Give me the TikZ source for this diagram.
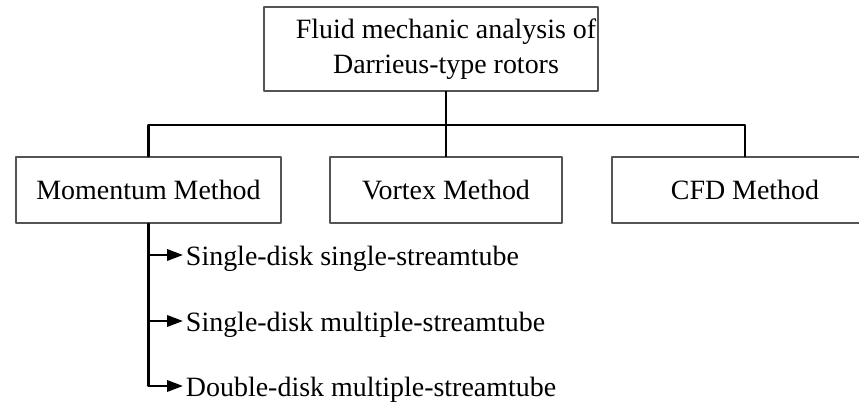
\documentclass[tikz,border=0pt]{standalone}
\usepackage{fontspec}
\setmainfont{Liberation Serif}
\usetikzlibrary{arrows.meta}
\definecolor{qqqqqq}{rgb}{0.33,0.33,0.33}

\begin{document}
\begin{tikzpicture}[line cap=round,line join=round,>={Triangle[length=9pt,width=6.4pt]},x=1.0cm,y=1.0cm,
  box/.style={draw=qqqqqq,line width=0.8pt,inner sep=0pt,font=\fontsize{15.9}{19.8}\selectfont},
  item/.style={anchor=west,inner xsep=1.5pt,inner ysep=0pt,text height=15pt,text depth=3.5pt,font=\fontsize{15.9}{19.8}\selectfont},
  link/.style={line width=1.3pt}]
\useasboundingbox (0,0) rectangle (17.18,8.06);
\clip (0,0) rectangle (17.18,8.06);
% top box
\node[box,minimum width=6.68cm,minimum height=1.68cm] (root) at (8.62,7.08) {};
\node[align=center,inner sep=0pt,font=\fontsize{15.9}{19.8}\selectfont] (roottext) at (8.92,7.08) {Fluid mechanic analysis of\\Darrieus-type rotors};
% methods
\node[box,minimum width=5.3cm,minimum height=1.32cm] (mom) at (2.97,4.26) {Momentum Method};
\node[box,minimum width=4.64cm,minimum height=1.32cm] (vortex) at (8.92,4.26) {Vortex Method};
\node[box,minimum width=5.32cm,minimum height=1.32cm] (cfd) at (14.9,4.26) {CFD Method};
\coordinate (bar) at (0,5.56);
\draw[link] (root.south -| vortex.north) -- (vortex.north);
\draw[link] (mom.north) -- (mom.north |- bar) -| (cfd.north);
% momentum variants
\node[item] (ssst) at (3.66,2.96) {Single-disk single-streamtube};
\node[item] (ssmt) at (3.66,1.64) {Single-disk multiple-streamtube};
\node[item] (dsmt) at (3.66,0.34) {Double-disk multiple-streamtube};
\draw[link,->] (mom.south) |- (dsmt.west);
\draw[link,->] (mom.south |- ssst.west) -- (ssst.west);
\draw[link,->] (mom.south |- ssmt.west) -- (ssmt.west);
\end{tikzpicture}
\end{document}
